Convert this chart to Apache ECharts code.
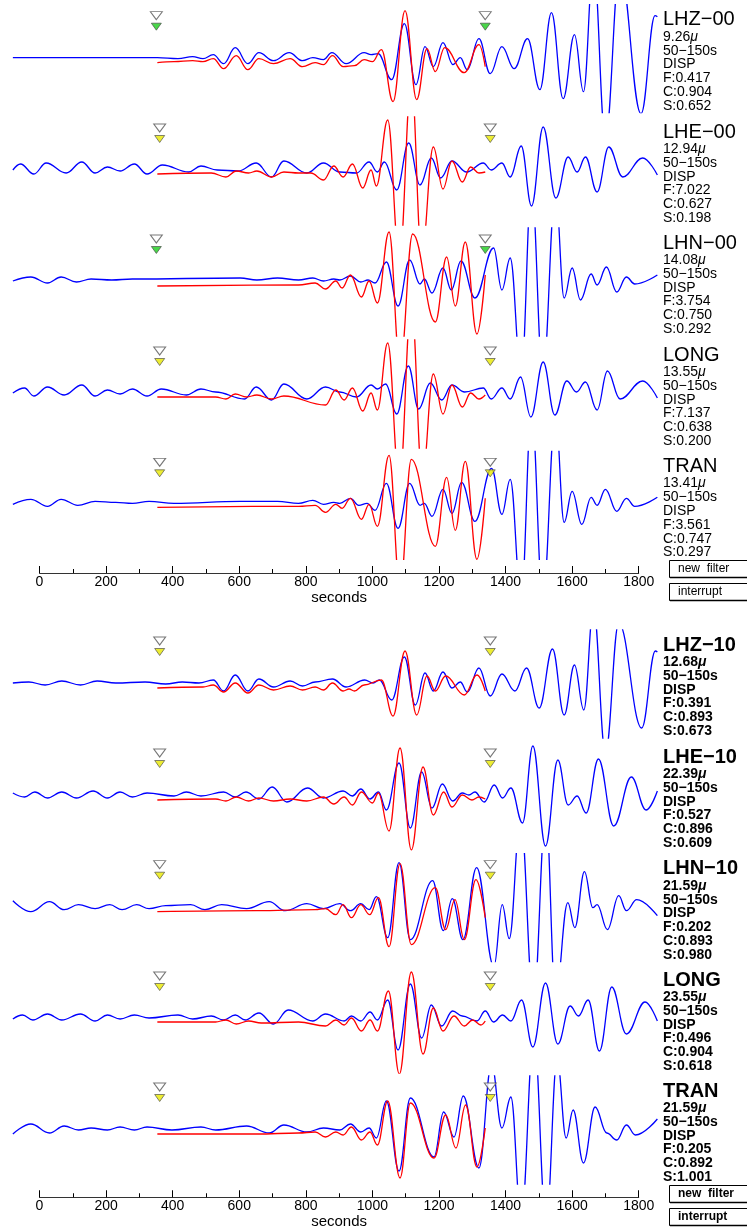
<!DOCTYPE html>
<html>
<head>
<meta charset="utf-8">
<script src="https://cdn.jsdelivr.net/npm/echarts@6/dist/echarts.min.js"></script>
<style>
html,body{margin:0;padding:0;background:#fff;}
#chart{width:747px;height:1228px;}
</style>
</head>
<body>
<div id="chart"></div>
<script>
// ---------------- DATA (time in seconds, amplitude in display units) ----------------
// Top panel (location 00)
const lhz00Blue = [[-80,0],[155,0],[354,0],[416,-1],[460,1],[491,-1],[522,3],[553,-6],[588,10],[626,-6],[659,5],[703,-3],[750,5],[790,-3],[821,0],[853,-2],[878,5],[921,-6],[975,5],[996,3],[1017,4],[1058,-22],[1096,34],[1131,-27],[1158,11],[1183,-9],[1212,15],[1242,-7],[1264,0],[1285,-12],[1320,19],[1354,-16],[1389,11],[1426,-11],[1466,19],[1503,-32],[1538,45],[1573,-41],[1607,23],[1634,-34],[1664,95],[1700,-81],[1743,90],[1807,-56],[1849,42],[1856,41]];
const lhz00Red = [[354,-5],[404,-4],[460,-3],[491,-4],[522,-1],[553,-11],[591,2],[626,-12],[659,-1],[703,-6],[753,-1],[790,-9],[828,-5],[853,-7],[880,2],[912,-9],[946,-8],[975,-2],[1000,-4],[1027,8],[1062,-44],[1098,47],[1133,-42],[1164,9],[1189,-14],[1217,10],[1276,-15],[1320,13],[1339,-9]];

const lhe00Blue = [[-80,0],[-57,6],[-17,-4],[20,7],[80,-3],[127,8],[167,-3],[204,3],[242,-1],[285,6],[323,-4],[369,5],[448,-2],[485,4],[534,0],[597,-1],[651,7],[697,-7],[734,9],[803,-3],[853,7],[902,-2],[952,-3],[990,8],[1015,-2],[1036,8],[1073,-20],[1109,27],[1143,-15],[1177,12],[1205,-8],[1239,9],[1283,-2],[1333,7],[1357,0],[1389,7],[1414,-7],[1447,24],[1478,-36],[1513,43],[1551,-28],[1588,13],[1615,-2],[1640,13],[1675,-22],[1710,23],[1752,-7],[1812,12],[1856,-5]];
const lhe00Red = [[354,-4],[516,-3],[560,-7],[591,-1],[628,-3],[653,-1],[697,-7],[734,-2],[778,-3],[815,-3],[853,-10],[884,4],[912,-7],[940,6],[971,-18],[996,0],[1012,-16],[1046,50],[1081,-90],[1117,90],[1148,-85],[1183,23],[1212,-19],[1239,9],[1270,-12],[1295,3],[1320,-3],[1339,-2]];

const lhn00Blue = [[-80,0],[-26,4],[24,-2],[65,4],[111,-1],[155,2],[217,1],[279,2],[603,3],[653,1],[715,3],[778,1],[821,3],[853,0],[884,2],[902,1],[934,5],[965,-1],[987,1],[1008,-2],[1042,19],[1077,-25],[1112,21],[1143,-3],[1156,2],[1179,-12],[1212,13],[1237,-9],[1266,20],[1308,-17],[1364,33],[1389,-9],[1414,23],[1447,-95],[1478,95],[1512,-95],[1550,90],[1576,-17],[1600,13],[1625,-19],[1657,7],[1675,-4],[1703,14],[1734,-11],[1763,4],[1788,-3],[1856,6]];
const lhn00Red = [[354,-5],[778,-4],[828,-2],[859,-8],[890,0],[909,-7],[934,6],[967,-16],[990,0],[1015,-22],[1050,49],[1083,-85],[1121,47],[1189,-41],[1223,24],[1249,-25],[1279,39],[1314,-53],[1339,6]];

const long00Blue = [[-80,0],[-45,5],[-17,-3],[24,6],[74,-2],[127,8],[167,-3],[204,3],[242,-1],[279,4],[323,-3],[366,4],[441,-2],[485,4],[529,1],[616,-6],[651,6],[697,-7],[734,9],[803,-6],[859,6],[902,1],[952,-4],[996,8],[1015,4],[1040,9],[1073,-21],[1108,27],[1139,-16],[1174,10],[1208,-7],[1239,8],[1277,1],[1333,5],[1357,-6],[1389,5],[1414,-6],[1445,16],[1476,-24],[1513,31],[1548,-22],[1584,12],[1613,1],[1640,11],[1675,-17],[1706,22],[1744,-6],[1812,12],[1856,-5]];
const long00Red = [[354,-4],[529,-4],[560,-6],[588,-1],[622,-4],[653,-2],[697,-6],[734,-3],[859,-12],[890,3],[915,-7],[940,5],[971,-18],[996,0],[1015,-17],[1046,50],[1081,-90],[1117,90],[1150,-85],[1183,19],[1212,-21],[1239,8],[1270,-14],[1295,0],[1320,-6],[1339,-2]];

const tran00Blue = [[-80,0],[-26,5],[24,-2],[65,5],[115,-1],[167,3],[229,2],[279,1],[329,3],[404,1],[603,3],[715,3],[778,1],[821,4],[853,0],[884,2],[902,1],[934,6],[959,-1],[984,1],[1008,-6],[1042,21],[1077,-24],[1112,21],[1143,-1],[1156,1],[1179,-12],[1212,15],[1239,-9],[1268,22],[1308,-17],[1358,36],[1389,-10],[1414,25],[1447,-95],[1478,95],[1512,-95],[1550,90],[1576,-18],[1600,13],[1629,-20],[1657,7],[1675,-1],[1700,15],[1734,-7],[1763,6],[1788,-2],[1856,7]];
const tran00Red = [[354,-3],[778,-2],[828,-1],[859,-8],[890,0],[909,-4],[934,6],[967,-15],[990,0],[1015,-22],[1050,49],[1083,-85],[1117,45],[1189,-42],[1223,27],[1249,-26],[1279,43],[1314,-55],[1339,6]];

// Bottom panel (location 10)
const lhz10Blue = [[-80,0],[-32,1],[17,-2],[67,2],[123,-2],[173,2],[229,0],[317,1],[379,-1],[429,1],[479,0],[522,3],[553,-8],[588,8],[626,-8],[659,4],[703,-4],[753,2],[790,-3],[828,1],[880,4],[921,-4],[977,3],[1002,0],[1021,3],[1058,-17],[1096,26],[1129,-22],[1158,10],[1183,-8],[1212,11],[1239,-5],[1264,1],[1285,-9],[1320,15],[1354,-13],[1389,9],[1428,-8],[1463,15],[1501,-25],[1541,34],[1576,-32],[1607,18],[1635,-27],[1664,75],[1700,-70],[1740,60],[1809,-45],[1850,32],[1856,31]];
const lhz10Red = [[354,-5],[491,-4],[522,-2],[553,-9],[588,0],[626,-10],[659,-2],[703,-7],[753,-3],[790,-7],[828,-4],[853,-7],[880,0],[912,-8],[930,-6],[946,-8],[975,-2],[1027,3],[1062,-33],[1098,32],[1133,-32],[1164,7],[1189,-8],[1220,7],[1276,-12],[1314,8],[1339,-8]];

const lhe10Blue = [[-80,2],[-45,-2],[-14,3],[24,-3],[67,3],[111,-3],[161,4],[204,-3],[242,3],[279,-2],[323,2],[404,-1],[441,3],[485,-1],[553,3],[588,-2],[620,3],[659,-4],[699,8],[743,-7],[805,7],[853,-3],[912,4],[940,-1],[965,6],[993,-4],[1018,3],[1042,-15],[1080,32],[1114,-33],[1148,23],[1179,-13],[1210,11],[1241,-6],[1270,2],[1290,0],[1308,3],[1336,-7],[1366,10],[1391,-3],[1416,7],[1451,-28],[1482,49],[1520,-51],[1557,35],[1588,-10],[1615,-1],[1642,-18],[1679,36],[1725,-31],[1778,18],[1822,-15],[1856,4]];
const lhe10Red = [[354,-5],[529,-4],[560,-6],[591,-2],[628,-6],[659,-3],[703,-6],[753,-4],[803,-6],[853,-2],[884,-9],[915,-2],[940,-10],[967,3],[1000,-8],[1018,2],[1050,-36],[1083,47],[1117,-55],[1152,28],[1183,-20],[1214,3],[1239,-12],[1270,0],[1299,-5],[1320,-2],[1339,-4]];

const lhn10Blue = [[-80,6],[-26,-5],[30,5],[74,-3],[117,2],[167,-2],[211,2],[248,-3],[292,2],[329,-2],[379,1],[454,2],[497,-3],[547,2],[622,-2],[690,5],[738,-4],[803,3],[853,-2],[902,3],[934,-4],[965,3],[990,-3],[1012,10],[1046,-31],[1080,44],[1114,-33],[1181,26],[1213,-24],[1240,8],[1272,-33],[1313,39],[1365,-60],[1390,2],[1411,-32],[1445,90],[1484,-95],[1521,95],[1550,-90],[1587,4],[1608,-21],[1637,35],[1662,-1],[1675,2],[1706,-23],[1740,11],[1763,-4],[1794,7],[1856,-9]];
const lhn10Red = [[354,-5],[653,-4],[828,-3],[859,-2],[890,-8],[912,2],[937,-11],[965,2],[992,-8],[1018,9],[1050,-40],[1083,43],[1117,-38],[1189,19],[1220,-23],[1248,7],[1276,-33],[1311,27],[1339,-11]];

const long10Blue = [[-80,-1],[-51,3],[-20,-2],[24,4],[67,-2],[123,4],[167,-3],[204,3],[242,-1],[285,3],[329,0],[416,3],[460,-1],[516,2],[553,-2],[588,3],[618,-2],[659,5],[703,-6],[747,8],[821,-3],[859,4],[915,-3],[937,2],[965,-3],[993,6],[1015,-2],[1046,18],[1077,-32],[1114,34],[1148,-20],[1177,13],[1208,-8],[1241,7],[1270,2],[1314,-3],[1339,7],[1364,-4],[1391,3],[1416,-3],[1448,18],[1482,-29],[1520,35],[1557,-26],[1594,12],[1619,2],[1648,18],[1682,-33],[1719,31],[1763,-16],[1819,16],[1856,-3]];
const long10Red = [[354,-4],[529,-4],[560,-2],[591,-6],[628,-3],[666,-5],[778,-4],[859,-8],[890,-2],[915,-7],[937,0],[967,-13],[993,-2],[1015,-13],[1048,27],[1081,-56],[1117,46],[1152,-36],[1183,10],[1212,-13],[1245,2],[1276,-8],[1301,-2],[1326,-7],[1339,-3]];

const tran10Blue = [[-80,-5],[-26,5],[30,-4],[74,3],[117,-1],[155,1],[204,-1],[242,2],[285,-1],[323,2],[398,-1],[485,2],[529,-1],[622,3],[690,-4],[734,4],[803,-3],[853,1],[902,-1],[934,5],[965,-3],[990,1],[1012,-9],[1042,28],[1080,-42],[1114,31],[1185,-28],[1214,17],[1245,-8],[1273,33],[1320,-39],[1358,65],[1389,1],[1416,32],[1447,-90],[1485,95],[1522,-95],[1555,70],[1582,-9],[1603,19],[1634,-34],[1669,22],[1704,-4],[1734,-11],[1763,4],[1790,-6],[1856,10]];
const tran10Red = [[354,-5],[653,-5],[778,-4],[828,-3],[859,-8],[890,-3],[912,-6],[937,2],[967,-11],[993,-3],[1015,-16],[1046,28],[1083,-49],[1114,26],[1185,-29],[1220,14],[1251,-19],[1280,24],[1314,-38],[1339,1]];

// Markers: times (s) of the two picks on each trace
const topPicks = [[351,1339],[361,1354],[351,1339],[361,1354],[361,1354]];
const bottomPicks = [[361,1354],[361,1354],[361,1354],[361,1354],[361,1354]];
const topPickColors = ['#1ccc1c','#e8e800','#1ccc1c','#e8e800','#e8e800'];
const bottomPickColors = ['#e8e800','#e8e800','#e8e800','#e8e800','#e8e800'];

// Side labels
const topChannels = ['LHZ−00','LHE−00','LHN−00','LONG','TRAN'];
const topAmps = ['9.26','12.94','14.08','13.55','13.41'];
const topF = ['0.417','7.022','3.754','7.137','3.561'];
const topC = ['0.904','0.627','0.750','0.638','0.747'];
const topS = ['0.652','0.198','0.292','0.200','0.297'];
const bottomChannels = ['LHZ−10','LHE−10','LHN−10','LONG','TRAN'];
const bottomAmps = ['12.68','22.39','21.59','23.55','21.59'];
const bottomF = ['0.391','0.527','0.202','0.496','0.205'];
const bottomC = ['0.893','0.896','0.893','0.904','0.892'];
const bottomS = ['0.673','0.609','0.980','0.618','1.001'];
const bandText = '50−150s';
const unitsText = 'DISP';

// Axis
const axisMin = 0, axisMax = 1800, axisStep = 200;
const axisName = 'seconds';

// ---------------- LAYOUT ----------------
const X_MIN = -80, X_MAX = 1856;
const PX = 0.3329;           // pixels per second
const AX0 = 39.5;            // x pixel of t=0
const traceLeft = AX0 + X_MIN * PX;
const traceWidth = (X_MAX - X_MIN) * PX;
const topBase = [57.7, 170, 281, 393, 504.3];
const botBase = [683, 795, 906.7, 1018, 1129];
const UP = 53, DOWN = 55;

const panels = [
  {base: topBase, blue:[lhz00Blue,lhe00Blue,lhn00Blue,long00Blue,tran00Blue], red:[lhz00Red,lhe00Red,lhn00Red,long00Red,tran00Red],
   picks: topPicks, pickColors: topPickColors, ch: topChannels, amp: topAmps, F: topF, C: topC, S: topS, bold:false, axisY:572},
  {base: botBase, blue:[lhz10Blue,lhe10Blue,lhn10Blue,long10Blue,tran10Blue], red:[lhz10Red,lhe10Red,lhn10Red,long10Red,tran10Red],
   picks: bottomPicks, pickColors: bottomPickColors, ch: bottomChannels, amp: bottomAmps, F: bottomF, C: bottomC, S: bottomS, bold:true, axisY:1197}
];

const grid = [], xAxis = [], yAxis = [], series = [], graphic = [];
let gi = 0;
const FONT = 'Liberation Sans, Arial, sans-serif';

panels.forEach(p => {
  for (let k = 0; k < 5; k++) {
    const b = p.base[k];
    grid.push({left: traceLeft, width: traceWidth, top: b - UP, height: UP + DOWN});
    xAxis.push({type:'value', gridIndex: gi, min: X_MIN, max: X_MAX, show:false});
    yAxis.push({type:'value', gridIndex: gi, min: -DOWN, max: UP, show:false});
    const common = {type:'line', xAxisIndex: gi, yAxisIndex: gi, symbol:'none', smooth:0.4, smoothMonotone:'x', clip:true, silent:true};
    series.push(Object.assign({}, common, {data: p.blue[k], lineStyle:{color:'#0000ff', width:1.3}, z:2}));
    series.push(Object.assign({}, common, {data: p.red[k], lineStyle:{color:'#ff0000', width:1.3}, z:3}));
    series.push({type:'scatter', xAxisIndex: gi, yAxisIndex: gi, clip:false, silent:true, symbol:'triangle', symbolRotate:180, symbolSize:[12,8],
      itemStyle:{color:'#ffffff', borderColor:'#555', borderWidth:1}, data: p.picks[k].map(t => [t, 42]), z:4});
    series.push({type:'scatter', xAxisIndex: gi, yAxisIndex: gi, clip:false, silent:true, symbol:'triangle', symbolRotate:180, symbolSize:[10,7],
      itemStyle:{color: p.pickColors[k], borderColor:'#444', borderWidth:0.8}, data: p.picks[k].map(t => [t, 31]), z:4});
    // side labels
    const fw = p.bold ? 'bold' : 'normal';
    const tx = 663;
    graphic.push({type:'text', left: tx, top: b - 48, style:{text: p.ch[k], font: fw + ' 20px ' + FONT, fill:'#000'}});
    graphic.push({type:'text', left: tx, top: b - 28, style:{text: p.amp[k] + '{m|μ}', font: fw + ' 14px ' + FONT, fill:'#000', rich:{m:{fontStyle:'italic', fontSize:14, fontWeight: fw, fontFamily: FONT}}}});
    const rows = [bandText, unitsText, 'F:' + p.F[k], 'C:' + p.C[k], 'S:' + p.S[k]];
    rows.forEach((r, j) => {
      graphic.push({type:'text', left: tx, top: b - 14 + j * 13.8, style:{text: r, font: fw + ' 14px ' + FONT, fill:'#000'}});
    });
    gi++;
  }
  // axis grid
  grid.push({left: AX0, width: (axisMax - axisMin) * PX, top: p.axisY, height: 1});
  xAxis.push({type:'value', gridIndex: gi, min: axisMin, max: axisMax, interval: axisStep, position:'bottom',
    axisLine:{show:true, lineStyle:{color:'#333', width:1}},
    axisTick:{show:true, inside:true, length:7, lineStyle:{color:'#000', width:1}},
    minorTick:{show:true, splitNumber:2, length:4, lineStyle:{color:'#000', width:1}},
    splitLine:{show:false}, minorSplitLine:{show:false},
    axisLabel:{show:true, color:'#000', fontSize:14, fontFamily: FONT, margin:2, formatter: v => String(v)},
    name: axisName, nameLocation:'middle', nameGap:17,
    nameTextStyle:{color:'#000', fontSize:15, fontFamily: FONT}
  });
  yAxis.push({type:'value', gridIndex: gi, show:false});
  gi++;
  // buttons
  const by = p.axisY - 12;
  [['new  filter', by], ['interrupt', by + 23]].forEach(([label, y]) => {
    graphic.push({type:'rect', shape:{x:669.5, y: y + 0.5, width: 90, height: 17}, style:{fill:'#fff', stroke:'#000', lineWidth:1}});
    graphic.push({type:'line', shape:{x1:670, y1: y + 17.5, x2:747, y2: y + 17.5}, style:{stroke:'#000', lineWidth:1.5}});
    graphic.push({type:'text', left: 678, top: y + 3, style:{text: label, font: (p.bold?'bold ':'') + '12px ' + FONT, fill:'#000'}});
  });
});

const chart = echarts.init(document.getElementById('chart'), null, {renderer:'canvas'});
chart.setOption({animation:false, backgroundColor:'#fff', grid, xAxis, yAxis, series, graphic});
</script>
</body>
</html>
